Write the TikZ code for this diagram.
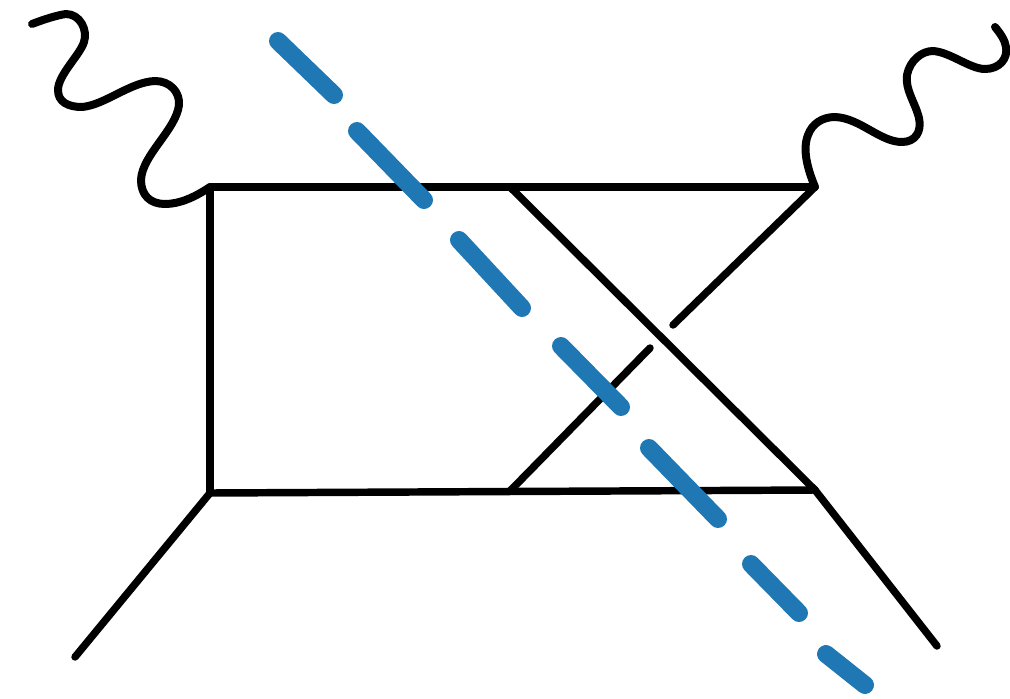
\documentclass[tikz,border=0pt]{standalone}
\usepackage{xcolor}
\definecolor{cutblue}{RGB}{31,119,180}
\usetikzlibrary{calc}

\begin{document}
\begin{tikzpicture}[
        x=0.0264cm, y=-0.0264cm,
        prop/.style={draw=black, line width=5.6pt, line cap=round, line join=round},
        photon/.style={draw=black, line width=6pt, line cap=round, line join=round},
        cutseg/.style={draw=cutblue, line width=13.5pt, line cap=round}
      ]
        \useasboundingbox (0,0) rectangle (1010,698);
        % vertices of the two-loop box
        \coordinate (tl) at (210,187);
        \coordinate (tm) at (510,187);
        \coordinate (tr) at (815,187);
        \coordinate (bl) at (210,493);
        \coordinate (bm) at (510,491);
        \coordinate (br) at (815,490);
        \coordinate (crossA) at (673,325);
        \coordinate (crossB) at (650,348);
        \coordinate (outL) at (75,657);
        \coordinate (outR) at (937,646);
        % box
        \draw[prop] (tl)--(tr); \draw[prop] (tl)--(bl);
        \draw[prop] (bl)--(br); \draw[prop] (tm)--(br);
        \draw[prop] (tr)--(crossA); \draw[prop] (crossB)--(bm);
        \draw[prop] (bl)--(outL); \draw[prop] (br)--(outR);
        % photons
        \coordinate (phL) at (32,24);
        \coordinate (phR) at (995,27);
        \draw[photon] (phL) .. controls (45,19) and (58,15) .. (66,14)
          .. controls (80,14) and (88,30) .. (84,42)
          .. controls (80,55) and (58,75) .. (58,90)
          .. controls (58,102) and (68,107) .. (82,107)
          .. controls (105,105) and (130,82) .. (155,81)
          .. controls (170,81) and (180,92) .. (179,105)
          .. controls (176,130) and (142,155) .. (141,180)
          .. controls (141,195) and (150,204) .. (165,204)
          .. controls (180,204) and (195,197) .. (tl);
        \draw[photon] (tr) .. controls (808,170) and (802,150) .. (808,135)
          .. controls (812,124) and (822,117) .. (835,117)
          .. controls (860,118) and (880,142) .. (902,142)
          .. controls (915,142) and (922,132) .. (919,118)
          .. controls (915,102) and (905,90) .. (907,75)
          .. controls (910,60) and (922,51) .. (933,51)
          .. controls (950,52) and (970,69) .. (985,69)
          .. controls (1000,69) and (1008,58) .. (1006,47)
          .. controls (1005,40) and (1000,33) .. (phR);
        % cut
        \coordinate (c1a) at (278,41); \coordinate (c1b) at (334,95);
        \coordinate (c2a) at (357,131); \coordinate (c2b) at (424,200);
        \coordinate (c3a) at (459,240); \coordinate (c3b) at (522,308);
        \coordinate (c4a) at (561,346); \coordinate (c4b) at (621,407);
        \coordinate (c5a) at (649,448); \coordinate (c5b) at (718,519);
        \coordinate (c6a) at (751,564); \coordinate (c6b) at (799,613);
        \coordinate (c7a) at (826,654); \coordinate (c7b) at (865,685);
        \draw[cutseg] (c1a)--(c1b); \draw[cutseg] (c2a)--(c2b);
        \draw[cutseg] (c3a)--(c3b); \draw[cutseg] (c4a)--(c4b);
        \draw[cutseg] (c5a)--(c5b); \draw[cutseg] (c6a)--(c6b);
        \draw[cutseg] (c7a)--(c7b);
      \end{tikzpicture}
\end{document}
